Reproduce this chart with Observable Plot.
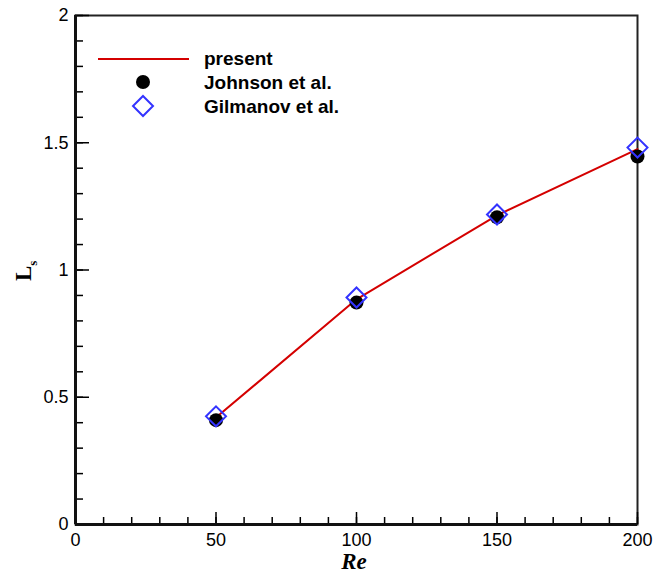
<!DOCTYPE html>
<html>
<head>
<meta charset="utf-8">
<script src="https://cdn.jsdelivr.net/npm/d3@7"></script>
<script src="https://cdn.jsdelivr.net/npm/@observablehq/plot@0.6"></script>
<style>
  body { margin: 0; background: #fff; }
  #chart { position: relative; width: 653px; height: 576px; }
</style>
</head>
<body>
<div id="chart"></div>
<script>
// Data
const reValues = [50, 100, 150, 200];
const presentLs = [0.42, 0.885, 1.215, 1.475];
const johnsonLs = [0.41, 0.872, 1.207, 1.446];
const gilmanovLs = [0.425, 0.892, 1.218, 1.481];

const xTicks = [0, 50, 100, 150, 200];
const xMinor = d3.range(0, 201, 10);
const yTicks = [0, 0.5, 1, 1.5, 2];
const yTickLabels = ["0", "0.5", "1", "1.5", "2"];
const yMinor = d3.range(0, 21, 1).map(d => d / 10);

const legendItems = ["present", "Johnson et al.", "Gilmanov et al."];

const present = reValues.map((x, i) => ({x, y: presentLs[i]}));
const johnson = reValues.map((x, i) => ({x, y: johnsonLs[i]}));
const gilmanov = reValues.map((x, i) => ({x, y: gilmanovLs[i]}));

const font = "'Liberation Sans', Arial, sans-serif";

const plot = Plot.plot({
  width: 653,
  height: 576,
  marginLeft: 75,
  marginRight: 16,
  marginTop: 15,
  marginBottom: 52,
  style: {fontFamily: font, fontSize: "18px", color: "#000", background: "#fff"},
  x: {domain: [0, 200]},
  y: {domain: [0, 2]},
  marks: [
    Plot.frame({stroke: "#222", strokeWidth: 2}),
    Plot.axisX(xMinor, {tickSize: -7, text: null, strokeWidth: 1.5, label: null}),
    Plot.axisX(xTicks, {tickSize: -12, text: null, strokeWidth: 1.5, label: null}),
    Plot.axisX(xTicks, {tickSize: 0, tickPadding: 9, label: null, fontSize: 18}),
    Plot.axisY(yMinor, {tickSize: -8, text: null, strokeWidth: 1.5, label: null}),
    Plot.axisY(yTicks, {tickSize: -14, text: null, strokeWidth: 1.5, label: null}),
    Plot.axisY(yTicks, {tickSize: 0, tickPadding: 7, label: null, fontSize: 18,
      tickFormat: (d, i) => yTickLabels[i]}),
    Plot.ruleY([0], {stroke: "#111", strokeWidth: 3}),
    Plot.ruleX([0], {stroke: "#111", strokeWidth: 3}),
    Plot.line(present, {x: "x", y: "y", stroke: "#d40000", strokeWidth: 2}),
    Plot.dot(johnson, {x: "x", y: "y", r: 7, fill: "#000", stroke: null}),
    Plot.dot(gilmanov, {x: "x", y: "y", r: 9, symbol: "diamond2", stroke: "#3333ff", strokeWidth: 2, fill: "none"})
  ]
});

document.getElementById("chart").appendChild(plot);

const svg = d3.select(plot);

// Axis titles
svg.append("text")
  .attr("x", 354).attr("y", 569)
  .attr("text-anchor", "middle")
  .style("font-family", "'Liberation Serif', 'Times New Roman', serif")
  .style("font-weight", "bold").style("font-style", "italic")
  .style("font-size", "23px")
  .text("Re");

const yl = svg.append("text")
  .attr("transform", "translate(31,281) rotate(-90)")
  .attr("text-anchor", "start")
  .style("font-family", "'Liberation Serif', 'Times New Roman', serif")
  .style("font-weight", "bold")
  .style("font-size", "23px");
yl.append("tspan").text("L");
yl.append("tspan").attr("dy", 6).style("font-size", "13px").text("s");

// Legend
const lg = svg.append("g")
  .attr("text-anchor", "start")
  .style("font-family", font).style("font-weight", "bold").style("font-size", "19px");
lg.append("line").attr("x1", 98).attr("x2", 189).attr("y1", 59).attr("y2", 59)
  .attr("stroke", "#d40000").attr("stroke-width", 2);
lg.append("circle").attr("cx", 143).attr("cy", 82).attr("r", 7).attr("fill", "#000");
lg.append("path").attr("d", d3.symbol(d3.symbolDiamond2, Math.PI * 81)())
  .attr("transform", "translate(143,106)")
  .attr("fill", "none").attr("stroke", "#3333ff").attr("stroke-width", 2);
legendItems.forEach((t, i) => {
  lg.append("text").attr("x", 204).attr("y", 65 + i * 24)
    .attr("text-anchor", "start").attr("fill", "#000").text(t);
});
</script>
</body>
</html>
